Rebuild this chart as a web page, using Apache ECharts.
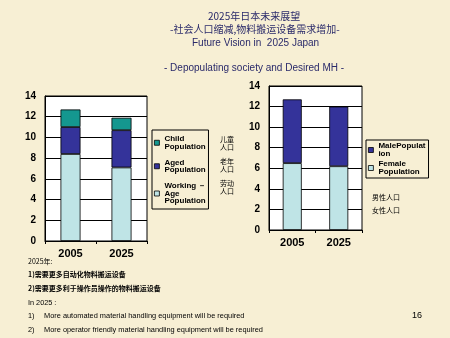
<!DOCTYPE html>
<html><head><meta charset="utf-8">
<script src="https://cdn.jsdelivr.net/npm/echarts@6/dist/echarts.min.js"></script>
<style>html,body{margin:0;padding:0;background:#f7efd4;}#c{width:450px;height:338px;}</style>
</head><body><div id="c"></div>
<script>
const years = ['2005', '2025'];
const workingAge = [8.4, 7.1];
const aged = [2.6, 3.6];
const child = [1.7, 1.2];
const female = [6.5, 6.2];
const male = [6.2, 5.8];
const yTicks = [0, 2, 4, 6, 8, 10, 12, 14];

const cTeal = '#14978f', cNavy = '#34339a', cLight = '#bfe4e6';
const ff = 'Liberation Sans, Arial, sans-serif';
const cjk = '"Noto Sans CJK SC", sans-serif';

function gridAxis(i) {
  return {
    gridIndex: i, type: 'value', min: yTicks[0], max: yTicks[yTicks.length-1], interval: 2,
    axisLine: {show: true, lineStyle: {color: '#000'}},
    axisTick: {show: false},
    axisLabel: {color: '#000', fontWeight: 'bold', fontSize: 10, fontFamily: ff, margin: 9},
    splitLine: {show: true, lineStyle: {color: '#000', width: 1}}
  };
}
function xAx(i) {
  return {
    gridIndex: i, type: 'category', data: years,
    axisLine: {show: true, lineStyle: {color: '#000'}},
    axisTick: {show: true, length: 3, lineStyle: {color: '#000'}},
    axisLabel: {color: '#000', fontWeight: 'bold', fontSize: 11, fontFamily: ff, margin: 7}
  };
}
const barStyle = c => ({color: c, borderColor: '#000', borderWidth: 0.8});
const legText = {color: '#000', fontWeight: 'bold', fontSize: 8, fontFamily: ff, lineHeight: 7.5};

const chart = echarts.init(document.getElementById('c'));
chart.setOption({
  animation: false,
  backgroundColor: '#f7efd4',
  grid: [
    {left: 45, top: 96, width: 102, height: 145, show: true, backgroundColor: '#fff', borderColor: '#000', borderWidth: 1},
    {left: 269, top: 86, width: 93, height: 144, show: true, backgroundColor: '#fff', borderColor: '#000', borderWidth: 1}
  ],
  xAxis: [xAx(0), xAx(1)],
  yAxis: [gridAxis(0), gridAxis(1)],
  legend: [
    {
      orient: 'vertical', left: 152, top: 130,
      data: ['Child\nPopulation', 'Aged\nPopulation', 'Working －\nAge\nPopulation'],
      itemWidth: 5, itemHeight: 5, itemGap: 8, padding: [5, 2, 4, 2],
      borderColor: '#000', borderWidth: 1, backgroundColor: '#f7efd4',
      textStyle: legText, icon: 'rect', itemStyle: {borderColor: '#000', borderWidth: 0.8},
      align: 'left'
    },
    {
      orient: 'vertical', left: 366, top: 140,
      data: ['MalePopulat\nion', 'Female\nPopulation'],
      itemWidth: 5, itemHeight: 5, itemGap: 2, padding: [2, 3, 2, 2],
      borderColor: '#000', borderWidth: 1, backgroundColor: '#f7efd4',
      textStyle: Object.assign({}, legText, {lineHeight: 8}), icon: 'rect', itemStyle: {borderColor: '#000', borderWidth: 0.8},
      align: 'left'
    }
  ],
  series: [
    {name: 'Working －\nAge\nPopulation', type: 'bar', stack: 'a', xAxisIndex: 0, yAxisIndex: 0, barWidth: 20, data: workingAge, itemStyle: barStyle(cLight)},
    {name: 'Aged\nPopulation', type: 'bar', stack: 'a', xAxisIndex: 0, yAxisIndex: 0, barWidth: 20, data: aged, itemStyle: barStyle(cNavy)},
    {name: 'Child\nPopulation', type: 'bar', stack: 'a', xAxisIndex: 0, yAxisIndex: 0, barWidth: 20, data: child, itemStyle: barStyle(cTeal)},
    {name: 'Female\nPopulation', type: 'bar', stack: 'b', xAxisIndex: 1, yAxisIndex: 1, barWidth: 19, data: female, itemStyle: barStyle(cLight)},
    {name: 'MalePopulat\nion', type: 'bar', stack: 'b', xAxisIndex: 1, yAxisIndex: 1, barWidth: 19, data: male, itemStyle: barStyle(cNavy)}
  ],
  graphic: [
    {type: 'text', left: 208, top: 11, style: {text: '2025年日本未来展望', fill: '#2a2a6a', font: '10px ' + cjk}},
    {type: 'text', left: 170, top: 24, style: {text: '-社会人口缩减,物料搬运设备需求增加-', fill: '#2a2a6a', font: '10px ' + cjk}},
    {type: 'text', left: 192, top: 38, style: {text: 'Future Vision in  2025 Japan', fill: '#2a2a6a', font: '10px ' + ff}},
    {type: 'text', left: 164, top: 63, style: {text: '- Depopulating society and Desired MH -', fill: '#2a2a6a', font: '10px ' + ff}},
    {type: 'text', left: 220, top: 135, style: {text: '儿童\n人口', fill: '#000', font: '7px ' + cjk, lineHeight: 8}},
    {type: 'text', left: 220, top: 157, style: {text: '老年\n人口', fill: '#000', font: '7px ' + cjk, lineHeight: 8}},
    {type: 'text', left: 220, top: 179, style: {text: '劳动\n人口', fill: '#000', font: '7px ' + cjk, lineHeight: 8}},
    {type: 'text', left: 372, top: 194, style: {text: '男性人口', fill: '#000', font: '7px ' + cjk}},
    {type: 'text', left: 372, top: 207, style: {text: '女性人口', fill: '#000', font: '7px ' + cjk}},
    {type: 'text', left: 28, top: 258, style: {text: '2025年:', fill: '#000', font: '7px ' + cjk}},
    {type: 'text', left: 28, top: 271, style: {text: '1)需要更多自动化物料搬运设备', fill: '#000', font: 'bold 7px ' + cjk}},
    {type: 'text', left: 28, top: 285, style: {text: '2)需要更多利于操作员操作的物料搬运设备', fill: '#000', font: 'bold 7px ' + cjk}},
    {type: 'text', left: 28, top: 299, style: {text: 'In 2025 :', fill: '#000', font: '7.3px ' + ff}},
    {type: 'text', left: 28, top: 312, style: {text: '1)', fill: '#000', font: '7.3px ' + ff}},
    {type: 'text', left: 44, top: 312, style: {text: 'More automated material handling equipment will be required', fill: '#000', font: '7.4px ' + ff}},
    {type: 'text', left: 28, top: 326, style: {text: '2)', fill: '#000', font: '7.3px ' + ff}},
    {type: 'text', left: 44, top: 326, style: {text: 'More operator friendly material handling equipment will be required', fill: '#000', font: '7.4px ' + ff}},
    {type: 'text', left: 412, top: 311, style: {text: '16', fill: '#000', font: '9px ' + ff}}
  ]
});
</script></body></html>
